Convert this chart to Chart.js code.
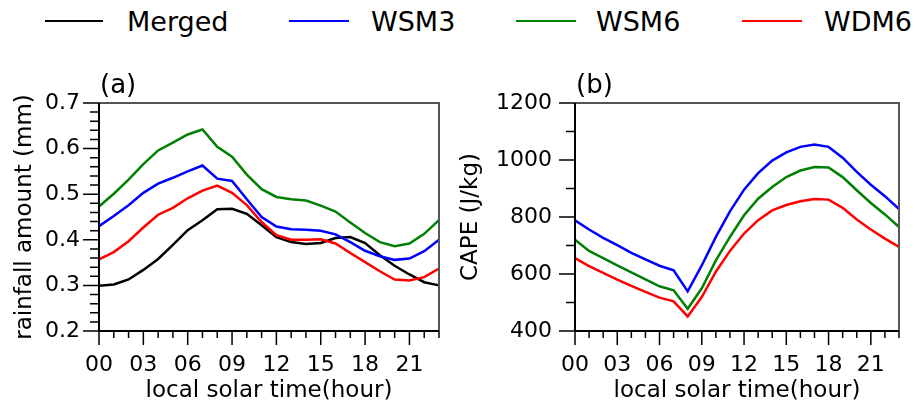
<!DOCTYPE html>
<html>
<head>
<meta charset="utf-8">
<script src="https://cdn.jsdelivr.net/npm/chart.js@4"></script>
<style>
  html, body { margin: 0; padding: 0; background: #fff; }
  body { width: 915px; height: 402px; position: relative; overflow: hidden; font-family: 'DejaVu Sans', sans-serif; }
  .leg-line { position: absolute; height: 0; border-top: 2.5px solid; top: 20px; }
  .leg-text { position: absolute; top: 8px; font-size: 27px; line-height: 27px; color: #000; white-space: nowrap; }
  #wrapA { position: absolute; left: 0; top: 50px; width: 460px; height: 352px; }
  #wrapB { position: absolute; left: 440px; top: 50px; width: 480px; height: 352px; }
</style>
</head>
<body>
<div class="leg-line" style="left:45px;width:58px;border-color:#000"></div>
<div class="leg-text" style="left:127px">Merged</div>
<div class="leg-line" style="left:289px;width:60px;border-color:#0000ff"></div>
<div class="leg-text" style="left:371px">WSM3</div>
<div class="leg-line" style="left:516px;width:60px;border-color:#008000"></div>
<div class="leg-text" style="left:596px">WSM6</div>
<div class="leg-line" style="left:742px;width:60px;border-color:#ff0000"></div>
<div class="leg-text" style="left:824px">WDM6</div>

<div id="wrapA"><canvas id="rainChart"></canvas></div>
<div id="wrapB"><canvas id="capeChart"></canvas></div>

<script>
// local solar time, hours 00..23
const hours = ['00','01','02','03','04','05','06','07','08','09','10','11',
               '12','13','14','15','16','17','18','19','20','21','22','23'];

// (a) rainfall amount (mm)
const rainMerged = [0.299,0.302,0.313,0.334,0.358,0.389,0.421,0.443,0.467,0.468,0.457,0.432,
                    0.406,0.395,0.391,0.393,0.404,0.406,0.393,0.366,0.343,0.324,0.307,0.300];
const rainWSM3 = [0.430,0.452,0.476,0.503,0.523,0.536,0.550,0.563,0.534,0.529,0.489,0.450,
                  0.429,0.423,0.422,0.420,0.412,0.395,0.376,0.364,0.356,0.359,0.375,0.400];
const rainWSM6 = [0.473,0.501,0.532,0.566,0.596,0.613,0.631,0.642,0.604,0.582,0.543,0.511,
                  0.494,0.489,0.486,0.475,0.462,0.438,0.415,0.395,0.386,0.392,0.413,0.443];
const rainWDM6 = [0.357,0.373,0.397,0.427,0.455,0.470,0.491,0.508,0.519,0.503,0.476,0.439,
                  0.410,0.400,0.400,0.401,0.392,0.371,0.351,0.331,0.313,0.311,0.318,0.337];

// (b) CAPE (J/kg)
const capeWSM3 = [788,756,727,701,674,651,629,613,539,630,730,820,
                  896,954,998,1027,1046,1054,1046,1008,958,913,873,828];
const capeWSM6 = [720,681,656,630,606,581,557,543,478,550,648,730,
                  806,864,905,940,963,975,974,940,894,849,809,765];
const capeWDM6 = [656,628,604,580,558,537,517,504,451,519,608,681,
                  742,789,823,842,855,863,861,832,791,756,724,695];

Chart.defaults.font.family = "'DejaVu Sans', sans-serif";
Chart.defaults.color = '#000';

// tick marks (long at labelled ticks), box frame and panel letter
const panelDeco = {
  id: 'panelDeco',
  afterDraw(chart, args, opts) {
    const {ctx, chartArea: a, scales: {x, y}} = chart;
    ctx.save();
    ctx.strokeStyle = '#000';
    ctx.lineWidth = 1.5;
    ctx.beginPath();
    x.ticks.forEach((t, i) => {
      const px = x.getPixelForTick(i);
      const len = i % 3 === 0 ? 14 : 7;
      ctx.moveTo(px, a.bottom);
      ctx.lineTo(px, a.bottom + len);
    });
    y.ticks.forEach((t, i) => {
      const py = y.getPixelForTick(i);
      const r = t.value / opts.yMajor;
      const len = Math.abs(r - Math.round(r)) < 1e-6 ? 16 : 9;
      ctx.moveTo(a.left, py);
      ctx.lineTo(a.left - len, py);
    });
    ctx.stroke();

    ctx.lineWidth = 2;
    ctx.strokeStyle = '#555';
    ctx.beginPath();
    ctx.moveTo(a.left, a.top);
    ctx.lineTo(a.right, a.top);
    ctx.lineTo(a.right, a.bottom);
    ctx.stroke();
    ctx.strokeStyle = '#000';
    ctx.beginPath();
    ctx.moveTo(a.left, a.top);
    ctx.lineTo(a.left, a.bottom);
    ctx.lineTo(a.right, a.bottom);
    ctx.stroke();

    ctx.fillStyle = '#000';
    ctx.font = "26px 'DejaVu Sans'";
    ctx.textBaseline = 'alphabetic';
    ctx.textAlign = 'left';
    ctx.fillText(opts.letter, a.left + 1, a.top - 10);
    ctx.restore();
  }
};

function line(label, data, color) {
  return { label, data, borderColor: color, borderWidth: 2.5, pointRadius: 0, tension: 0, fill: false };
}

function makeOptions(cfg) {
  return {
    responsive: true,
    maintainAspectRatio: false,
    animation: false,
    layout: { padding: { left: 0, right: cfg.padRight, top: 53, bottom: 0 } },
    plugins: {
      legend: { display: false },
      tooltip: { enabled: false },
      panelDeco: { letter: cfg.letter, yMajor: cfg.yMajor }
    },
    scales: {
      x: {
        type: 'category',
        grid: { display: false, drawTicks: false },
        border: { display: false },
        ticks: {
          autoSkip: false, maxRotation: 0, padding: 21,
          font: { size: 22 },
          callback(value, index) { return index % 3 === 0 ? this.getLabelForValue(value) : ''; }
        },
        title: { display: true, text: 'local solar time(hour)', font: { size: 23 }, padding: { top: 0, bottom: -3 } },
        afterFit(scale) { scale.height = 71; }
      },
      y: {
        min: cfg.yMin, max: cfg.yMax,
        grid: { display: false, drawTicks: false },
        border: { display: false },
        ticks: {
          autoSkip: false,
          stepSize: cfg.yStep, maxTicksLimit: cfg.maxTicks, padding: cfg.labelPad,
          font: { size: 22 },
          callback(v) {
            const r = v / cfg.yMajor;
            return Math.abs(r - Math.round(r)) < 1e-6 ? cfg.fmt(v) : '';
          }
        },
        title: { display: true, text: cfg.yTitle, font: { size: 23 }, padding: { top: cfg.titlePad, bottom: 0 } },
        afterFit(scale) { scale.width = cfg.yWidth; }
      }
    }
  };
}

new Chart(document.getElementById('rainChart'), {
  type: 'line',
  data: {
    labels: hours,
    datasets: [
      line('WDM6', rainWDM6, '#ff0000'),
      line('WSM6', rainWSM6, '#008000'),
      line('WSM3', rainWSM3, '#0000ff'),
      line('Merged', rainMerged, '#000000')
    ]
  },
  options: makeOptions({
    letter: '(a)', yMin: 0.2, yMax: 0.7, yStep: 0.02, yMajor: 0.1, maxTicks: 27,
    fmt: v => v.toFixed(1), labelPad: 19, yTitle: 'rainfall amount (mm)', titlePad: 11,
    yWidth: 99, padRight: 18
  }),
  plugins: [panelDeco]
});

new Chart(document.getElementById('capeChart'), {
  type: 'line',
  data: {
    labels: hours,
    datasets: [
      line('WDM6', capeWDM6, '#ff0000'),
      line('WSM6', capeWSM6, '#008000'),
      line('WSM3', capeWSM3, '#0000ff')
    ]
  },
  options: makeOptions({
    letter: '(b)', yMin: 400, yMax: 1200, yStep: 100, yMajor: 200, maxTicks: 10,
    fmt: v => String(v), labelPad: 23, yTitle: 'CAPE (J/kg)', titlePad: 17,
    yWidth: 135, padRight: 2
  }),
  plugins: [panelDeco]
});
</script>
</body>
</html>
